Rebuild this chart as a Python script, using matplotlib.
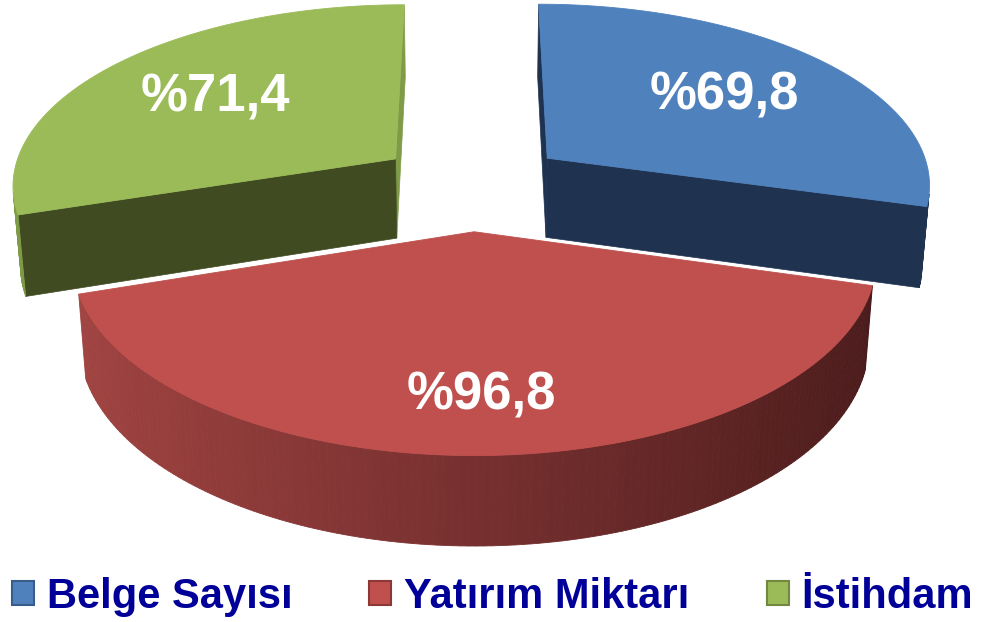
import numpy as np
import matplotlib.pyplot as plt
from matplotlib.patches import Polygon, Patch

plt.rcParams['font.family'] = ['Liberation Sans', 'DejaVu Sans']

# =========================
# data
# =========================
labels = ["Belge Sayısı", "Yatırım Miktarı", "İstihdam"]
values = [69.8, 96.8, 71.4]
value_text = ["%69,8", "%96,8", "%71,4"]

top_colors = ["#4F81BD", "#C0504D", "#9BBB59"]
edge_colors = ["#385D8A", "#8C3836", "#71893F"]
wall_light = ["#3D6596", "#A34543", "#7F9B48"]
wall_dark = ["#1F3350", "#4A1B1B", "#404B22"]

# =========================
# simple perspective camera
# =========================
elev = np.radians(28)
s, c = np.sin(elev), np.cos(elev)
D = 6.71        # camera distance
f = 2585        # focal length in px
cx, cy = 472, 185
cam = np.array([0, -D * c, D * s])

R = 1.0         # pie radius
h = 0.24        # pie thickness
explode = 0.25


def project(p):
    x, y, z = p[..., 0], p[..., 1], p[..., 2]
    depth = D + c * y - s * z
    return np.column_stack([cx + f * x / depth, cy - f * (s * y + c * z) / depth])


def mix(c1, c2, t):
    a = np.array(plt.matplotlib.colors.to_rgb(c1))
    b = np.array(plt.matplotlib.colors.to_rgb(c2))
    return tuple(a * (1 - t) + b * t)


fig = plt.figure(figsize=(9.85, 6.22), dpi=100)
ax = fig.add_axes([0, 0, 1, 1])
ax.set_xlim(0, 985)
ax.set_ylim(622, 0)
ax.axis('off')

fracs = np.array(values) / sum(values)
starts = 90 - 360 * np.concatenate([[0], np.cumsum(fracs)[:-1]])
ends = starts - 360 * fracs

slices = []
for i in range(len(values)):
    a1, a2 = np.radians(ends[i]), np.radians(starts[i])
    mid = (a1 + a2) / 2
    ctr = np.array([explode * np.cos(mid), explode * np.sin(mid), 0.0])
    slices.append((i, a1, a2, mid, ctr))

# back slices first
slices.sort(key=lambda t: -t[4][1])


def rim(ctr, a, z):
    return ctr + np.array([R * np.cos(a), R * np.sin(a), z])


for i, a1, a2, mid, ctr in slices:
    bot = ctr + np.array([0, 0, -h])

    # radial cut faces
    for a, nrm in [(a1, np.array([np.sin(a1), -np.cos(a1), 0])),
                   (a2, np.array([-np.sin(a2), np.cos(a2), 0]))]:
        pt = ctr + np.array([0.5 * R * np.cos(a), 0.5 * R * np.sin(a), -h / 2])
        if np.dot(nrm, cam - pt) > 0:
            col = wall_light[i] if nrm[0] > 0.5 else wall_dark[i]
            pts = np.array([ctr, rim(ctr, a, 0), rim(ctr, a, -h), bot])
            ax.add_patch(Polygon(project(pts), closed=True, facecolor=col,
                                 edgecolor=col, lw=0.5))

    # outer curved wall, shaded left->right
    n = max(int(np.degrees(a2 - a1)), 4)
    ang = np.linspace(a1, a2, n + 1)
    for k in range(n):
        m = (ang[k] + ang[k + 1]) / 2
        nrm = np.array([np.cos(m), np.sin(m), 0])
        pt = rim(ctr, m, -h / 2)
        if np.dot(nrm, cam - pt) <= 0:
            continue
        t = (np.cos(m) + 1) / 2
        col = mix(wall_light[i], wall_dark[i], t)
        pts = np.array([rim(ctr, ang[k], 0), rim(ctr, ang[k + 1], 0),
                        rim(ctr, ang[k + 1], -h), rim(ctr, ang[k], -h)])
        ax.add_patch(Polygon(project(pts), closed=True, facecolor=col,
                             edgecolor=col, lw=0.6))

    # top face
    arc = np.array([rim(ctr, a, 0) for a in np.linspace(a1, a2, 200)])
    pts = np.vstack([ctr, arc])
    ax.add_patch(Polygon(project(pts), closed=True, facecolor=top_colors[i],
                         edgecolor=top_colors[i], lw=0.6))

# value labels
label_r = [0.63, 0.76, 0.63]
for i, a1, a2, mid, ctr in slices:
    p = ctr + np.array([label_r[i] * np.cos(mid), label_r[i] * np.sin(mid), 0])
    x, y = project(p[None, :])[0]
    ax.text(x, y, value_text[i], color='white', fontsize=38, fontweight='bold',
            ha='center', va='center')

# legend
handles = [Patch(facecolor=top_colors[i], edgecolor=edge_colors[i], linewidth=1.5)
           for i in range(len(labels))]
fig.legend(handles, labels, loc='lower center', bbox_to_anchor=(0.5, 0.002),
           ncol=3, frameon=False, prop={'weight': 'bold', 'size': 30},
           labelcolor='#000099', handlelength=0.53, handleheight=0.53,
           handletextpad=0.31, columnspacing=1.85, borderaxespad=0, borderpad=0.1)

fig.savefig('out.png', dpi=100)
